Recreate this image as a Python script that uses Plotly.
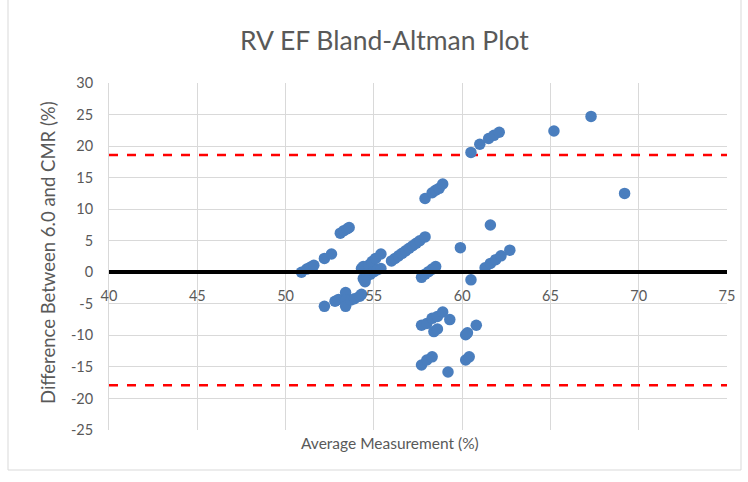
import plotly.graph_objects as go

# Average of the two methods (%) and their difference (%)
avg_measurement = [
    50.9, 51.2, 51.4, 51.6, 52.2, 52.6, 53.1, 53.3, 53.5, 53.6,
    52.2, 52.8, 53.0, 53.4, 53.4, 53.4, 53.7, 53.9, 54.2, 54.3,
    54.3, 54.4, 54.7, 54.9, 55.1, 55.4,
    54.4, 54.6, 54.8, 55.0, 55.2, 55.4, 54.5,
    56.0, 56.2, 56.4, 56.6, 56.8, 57.0, 57.2, 57.4, 57.6, 57.9,
    57.9, 58.3, 58.5, 58.7, 58.9,
    57.7, 57.9, 58.1, 58.3, 58.5,
    59.9, 60.5,
    57.7, 58.0, 58.3, 58.6, 58.9, 59.3, 58.4, 58.6, 60.2, 60.3, 60.8,
    57.7, 58.0, 58.3, 59.2, 60.2, 60.4,
    60.5, 61.0, 61.5, 61.8, 62.1, 61.6,
    61.3, 61.6, 61.9, 62.2, 62.7,
    65.2, 67.3, 69.2,
]
difference = [
    0.0, 0.5, 0.8, 1.1, 2.2, 2.9, 6.2, 6.6, 6.9, 7.1,
    -5.4, -4.6, -4.3, -3.2, -4.4, -5.4, -4.4, -4.2, -3.8, -3.5,
    0.6, 0.9, 1.1, 1.7, 2.2, 2.9,
    -1.0, -0.6, -0.3, 0.1, 0.4, 0.6, -1.5,
    1.8, 2.2, 2.6, 3.0, 3.4, 3.8, 4.2, 4.6, 5.0, 5.6,
    11.7, 12.6, 13.0, 13.3, 14.0,
    -0.8, -0.3, 0.1, 0.5, 0.9,
    3.9, -1.2,
    -8.4, -8.1, -7.3, -7.0, -6.3, -7.5, -9.4, -9.0, -9.9, -9.6, -8.4,
    -14.7, -13.9, -13.4, -15.8, -13.9, -13.4,
    19.0, 20.3, 21.2, 21.7, 22.2, 7.5,
    0.7, 1.4, 2.0, 2.6, 3.5,
    22.4, 24.7, 12.5,
]

# Limits of agreement
upper_loa = 18.6
lower_loa = -17.9

x_range = [40, 75]
y_range = [-25, 30]
x_ticks = [40, 45, 50, 55, 60, 65, 70, 75]
y_ticks = [-25, -20, -15, -10, -5, 0, 5, 10, 15, 20, 25, 30]

FONT = "Lato"
GREY = "#595959"

fig = go.Figure()

for loa in (upper_loa, lower_loa):
    fig.add_trace(go.Scatter(
        x=x_range, y=[loa, loa], mode="lines",
        line=dict(color="#FF0000", width=2.5, dash="9px,9px"),
        hoverinfo="skip", showlegend=False,
    ))

fig.add_trace(go.Scatter(
    x=avg_measurement, y=difference, mode="markers",
    marker=dict(color="#4A7EBE", size=11.5, line=dict(width=0)),
    showlegend=False,
))

fig.update_layout(
    width=748, height=482,
    margin=dict(l=109, r=21, t=83, b=52),
    paper_bgcolor="white", plot_bgcolor="white",
    font=dict(family=FONT, color=GREY, size=14),
    xaxis=dict(
        range=x_range, tickvals=x_ticks, ticktext=[str(v) for v in x_ticks],
        showgrid=True, gridcolor="#D9D9D9", gridwidth=1,
        zeroline=False, showline=True, linecolor="black", linewidth=3.5,
        anchor="free", position=25 / 55,
        ticks="", ticklabelstandoff=10,
        tickfont=dict(size=14.5, color=GREY, family=FONT),
    ),
    yaxis=dict(
        range=y_range, tickvals=y_ticks, ticktext=[str(v) for v in y_ticks],
        showgrid=True, gridcolor="#D9D9D9", gridwidth=1,
        zeroline=False, showline=True, linecolor="#D9D9D9", linewidth=1,
        ticks="", ticklabelstandoff=12,
        tickfont=dict(size=14.5, color=GREY, family=FONT),
    ),
)

# Chart title
fig.add_annotation(
    text="RV EF Bland-Altman Plot", xref="paper", yref="paper",
    x=(384 - 109) / 618, y=(430 - 40) / 347, showarrow=False,
    font=dict(size=26.5, color=GREY, family=FONT), xanchor="center", yanchor="middle",
)

# Axis titles
fig.add_annotation(
    text="Average Measurement (%)", xref="paper", yref="paper",
    x=(390 - 109) / 618, y=(430 - 443) / 347, showarrow=False,
    font=dict(size=15.5, color=GREY, family=FONT), xanchor="center", yanchor="middle",
)
fig.add_annotation(
    text="Difference Between 6.0 and CMR (%)", xref="paper", yref="paper",
    x=(48 - 109) / 618, y=(430 - 253) / 347, showarrow=False, textangle=-90,
    font=dict(size=18.5, color=GREY, family=FONT), xanchor="center", yanchor="middle",
)

# Chart-area outline
fig.add_shape(
    type="rect", xref="paper", yref="paper",
    x0=(8 - 109) / 618, x1=(741 - 109) / 618,
    y0=(430 - 470) / 347, y1=(430 - (-5)) / 347,
    line=dict(color="#D9D9D9", width=1), layer="below",
)

fig.write_html("out.html")
